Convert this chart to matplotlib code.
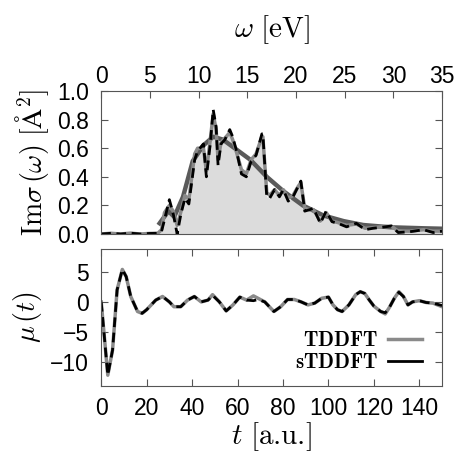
import numpy as np
import matplotlib
matplotlib.use('Agg')
from matplotlib import pyplot as plt
from matplotlib.lines import Line2D

plt.rcParams['mathtext.fontset'] = 'cm'
plt.rcParams['font.family'] = ['Liberation Sans', 'DejaVu Sans']

# absorption spectrum (omega in eV)
w_s = [0, 1, 2, 3, 4, 5, 5.8, 6.2, 6.5, 7.0, 7.4, 7.8, 8.2, 8.6, 9.0, 9.6, 9.9, 10.5, 10.8,
       11.2, 11.5, 11.8, 12.0, 12.3, 12.7, 13.2, 13.5, 13.9, 14.4, 14.9, 15.4, 15.9, 16.5,
       16.6, 17.0, 17.3, 17.8, 18.3, 18.7, 19.2, 19.7, 20.2, 20.5, 20.9, 21.4, 21.8, 22.5,
       23.1, 23.7, 24.3, 25.2, 26.2, 27.1, 27.9, 28.8, 29.8, 30.5, 31.7, 33.1, 34.1, 35]
s_stddft = [0.0, 0.005, 0.0, 0.006, 0.0, 0.004, 0.005, 0.02, 0.10, 0.24, 0.14, 0.0, 0.145,
            0.25, 0.21, 0.52, 0.58, 0.63, 0.40, 0.63, 0.87, 0.75, 0.48, 0.63, 0.66, 0.73,
            0.68, 0.58, 0.42, 0.40, 0.51, 0.55, 0.70, 0.70, 0.26, 0.25, 0.31, 0.26, 0.31,
            0.23, 0.26, 0.33, 0.37, 0.16, 0.17, 0.18, 0.075, 0.16, 0.086, 0.075, 0.05, 0.075,
            0.03, 0.04, 0.047, 0.056, 0.01, 0.016, 0.03, 0.01, 0.02]
s_tddft = [0.0, 0.005, 0.0, 0.006, 0.0, 0.004, 0.005, 0.03, 0.15, 0.20, 0.16, 0.06, 0.16,
           0.27, 0.24, 0.56, 0.60, 0.60, 0.44, 0.66, 0.84, 0.73, 0.52, 0.64, 0.67, 0.71,
           0.66, 0.57, 0.45, 0.42, 0.52, 0.56, 0.68, 0.68, 0.29, 0.27, 0.31, 0.27, 0.31,
           0.25, 0.27, 0.33, 0.36, 0.18, 0.17, 0.17, 0.09, 0.15, 0.09, 0.08, 0.06, 0.07,
           0.04, 0.045, 0.05, 0.055, 0.02, 0.02, 0.03, 0.02, 0.02]
w_fit = [6.0, 6.9, 7.5, 8.4, 9.4, 10.5, 11.5, 12.5, 13.5, 15.3, 17.0, 18.7, 20.7, 22.8,
         24.9, 26.9, 29.7, 33.1, 35]
s_fit = [0.075, 0.16, 0.12, 0.26, 0.51, 0.62, 0.68, 0.66, 0.61, 0.52, 0.40, 0.30, 0.20,
         0.13, 0.09, 0.063, 0.047, 0.04, 0.037]

# dipole moment (t in a.u.)
t = [0, 1.5, 2.9, 5, 7, 9.3, 11, 13, 16, 18, 20, 24, 27, 30, 32, 35, 38, 41, 44, 47, 49,
     52, 55, 58, 61, 64, 67, 69, 72, 76, 79, 82, 85, 88, 91, 94, 97, 100, 102, 104, 106,
     109, 112, 114, 116, 118, 120, 123, 125, 127, 129, 131, 133, 135, 137, 140, 143, 146, 150]
mu_tddft = [0, -6.3, -12.2, -8, 2, 5.4, 4.2, 0.9, -1.6, -1.9, -1.3, 0.3, 0.9, 0, -0.8,
            -0.8, 0.3, 0.9, 0, 0.3, 1.2, 0, -1.5, -0.5, 0.8, 0.3, 1.0, 0.6, 0, -1.6, -0.8,
            0.4, 0.4, 0, -0.5, -0.2, 0.6, 0.8, -0.5, -1.3, -1.6, -0.5, 1.2, 1.7, 1.4, 0.3,
            -0.7, -1.6, -2.0, -0.8, 0.6, 1.7, 0.9, -0.5, 0, 0.2, -0.1, -0.2, -0.8]
mu_stddft = [0, -6.3, -12.2, -8, 2, 5.4, 4.2, 0.9, -1.6, -1.9, -1.3, 0.3, 0.9, 0, -0.8,
             -0.8, 0.3, 0.9, 0, 0.3, 1.1, 0, -1.5, -0.5, 0.8, 0.3, 0.2, 0.4, 0, -1.6, -0.8,
             0.4, 0.4, 0, -0.5, -0.2, 0.6, 0.8, -0.5, -1.3, -1.6, -0.5, 1.2, 1.7, 1.4, 0.3,
             -0.7, -1.6, -1.8, -0.8, 0.6, 1.6, 0.9, -0.5, 0, 0.2, -0.1, -0.2, -0.6]

fig = plt.figure(figsize=(4.6, 4.55), dpi=100)
ax1 = fig.add_axes([0.22, 0.4857, 0.741, 0.3143])
ax2 = fig.add_axes([0.22, 0.1516, 0.741, 0.3011])

grey = '#8a8a8a'
spine = '#555555'

ax1.fill_between(w_s, 0, s_stddft, color='#dcdcdc', lw=0)
ax1.plot(w_fit, s_fit, color='#5a5a5a', lw=3.2)
ax1.plot(w_s, s_tddft, color=grey, lw=2.5)
ax1.plot(w_s, s_stddft, color='black', lw=2, dashes=(3.5, 2))
ax1.set_xlim(0, 35)
ax1.set_ylim(0, 1.0)
ax1.set_xticks(np.arange(0, 36, 5))
ax1.set_yticks(np.arange(0, 1.01, 0.2))
ax1.set_yticklabels(['0.0', '0.2', '0.4', '0.6', '0.8', '1.0'])
ax1.xaxis.set_ticks_position('top')
ax1.xaxis.set_label_position('top')
ax1.tick_params(direction='in', top=True, right=True, bottom=False, length=5,
                labelsize=16.5, color=spine, pad=9)
ax1.tick_params(axis='x', pad=2.5)
ax1.set_xlabel(r'$\omega\ [\mathrm{eV}]$', fontsize=21, labelpad=20)
ax1.set_ylabel(r'$\mathrm{Im}\sigma\,(\omega)\ [\mathrm{\AA}^2]$', fontsize=20, labelpad=4)

ax2.plot(t, mu_tddft, color=grey, lw=2.5)
ax2.plot(t, mu_stddft, color='black', lw=2, dashes=(3.5, 2))
ax2.set_xlim(0, 150)
ax2.set_ylim(-14, 8.8)
ax2.set_xticks(np.arange(0, 141, 20))
ax2.set_yticks([-10, -5, 0, 5])
ax2.set_yticklabels(['\u221210', '\u22125', '0', '5'])
ax2.tick_params(direction='in', top=True, right=True, length=5, labelsize=16.5,
                color=spine, pad=9)
ax2.tick_params(axis='x', pad=8)
ax2.set_xlabel(r'$t\ [\text{a.u.}]$', fontsize=21, labelpad=0)
ax2.set_ylabel(r'$\mu\,(t)$', fontsize=20, labelpad=4)
handles = [Line2D([], [], color=grey, lw=2.5), Line2D([], [], color='black', lw=2)]
ax2.legend(handles, [r'$\mathbf{TDDFT}$', r'$\mathbf{sTDDFT}$'], loc='lower right',
           frameon=False, markerfirst=False, fontsize=15, handlelength=1.6,
           handletextpad=0.5, borderaxespad=0, labelspacing=0.15,
           bbox_to_anchor=(0.965, 0.04))

for ax in (ax1, ax2):
    for s in ax.spines.values():
        s.set_color(spine)

plt.savefig('out.png', dpi=100)
